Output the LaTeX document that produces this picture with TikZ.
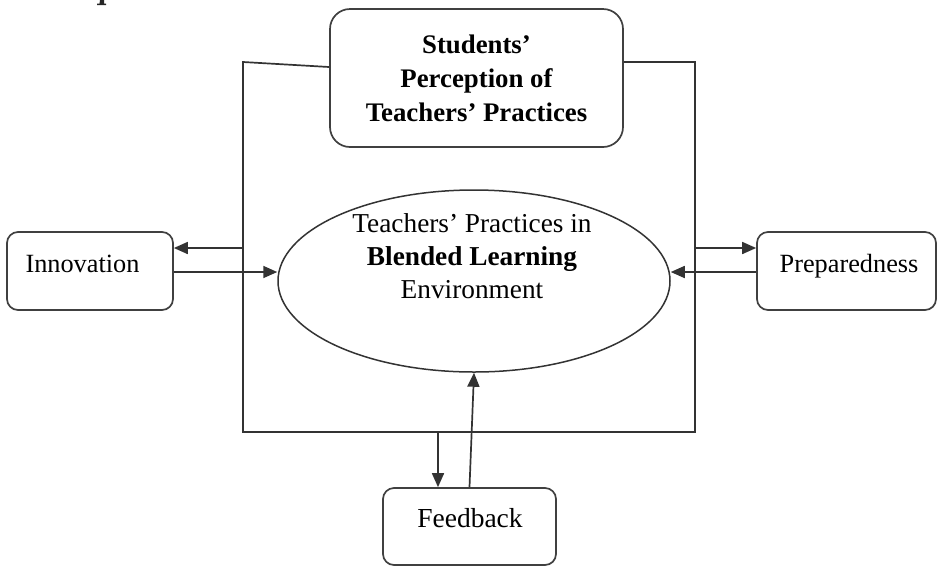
\documentclass[tikz,border=0pt]{standalone}
\usepackage{fontspec}
\setmainfont{Liberation Serif}
\usetikzlibrary{arrows.meta,shapes.geometric}
\begin{document}
\begin{tikzpicture}[x=1pt,y=-1pt,
  ln/.style={draw=black!80,line width=1.7pt},
  arr/.style={ln,-{Triangle[length=14pt,width=12pt]}},
  rbox/.style={draw=black!75,line width=1.7pt,rounded corners=11pt,inner sep=0pt},
  lbl/.style={font=\fontsize{26.3}{33}\selectfont,inner sep=0pt,anchor=base},
]
\useasboundingbox (0,0) rectangle (937,566);
\fill[white] (0,0) rectangle (937,566);
% cropped fragment at the top edge
\fill[black!85] (100,0) -- (104,0) -- (104,3.5) -- (106,3.5) -- (106,5) -- (97,5) -- (97,3.5) -- (99.5,3.5) -- cycle;

% top box
\node[rbox, rounded corners=20pt, minimum width=293pt, minimum height=138pt,
      font=\bfseries\fontsize{26.8}{34}\selectfont, align=center] (top) at (476.5,78)
      {Students’\\Perception of\\Teachers’ Practices};

% ellipse
\node[ellipse, draw=black!80, line width=1.5pt, minimum width=392pt,
      minimum height=182pt, inner sep=0pt] (ell) at (474,281) {};
\node[font=\fontsize{27.3}{33}\selectfont, align=center, inner sep=0pt] (elltxt) at (472,256)
      {Teachers’ Practices in\\\textbf{Blended Learning}\\Environment};

% side boxes
\node[rbox, minimum width=166pt, minimum height=78pt] (inn) at (90,271) {};
\node[lbl] (inntxt) at (82.5,272) {Innovation};
\node[rbox, minimum width=179pt, minimum height=78pt] (prep) at (846.5,271) {};
\node[lbl] (preptxt) at (849,272) {Preparedness};
\node[rbox, minimum width=173pt, minimum height=77pt] (fb) at (469.5,526.5) {};
\node[lbl, font=\fontsize{27.5}{33}\selectfont] (fbtxt) at (470,527) {Feedback};

% frame
\coordinate (tl) at (243,62);
\coordinate (bl) at (243,432);
\coordinate (br) at (695,432);
\coordinate (tr) at (695,62);
\draw[ln] ([yshift=11pt]top.west) -- (tl) -- (bl) -- (br) -- (tr) -- ([yshift=16pt]top.east);

% arrows
\coordinate (la) at (243,248);
\coordinate (ra) at (695,248);
\coordinate (fa) at (438,432);
\coordinate (ia) at ([yshift=-1pt]inn.east);
\coordinate (pa) at ([yshift=-1pt]prep.west);
\draw[arr] (la) -- ([yshift=23pt]inn.east);
\draw[arr] (ia) -- (ia -| ell.west);
\draw[arr] (ra) -- ([yshift=23pt]prep.west);
\draw[arr] (pa) -- (pa -| ell.east);
\draw[arr] (fa) -- (fa |- fb.north);
\draw[arr] (fb.north) -- (ell.south);
\end{tikzpicture}
\end{document}
